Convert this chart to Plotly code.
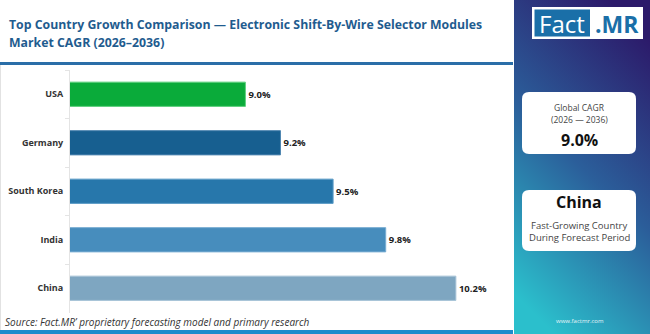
import plotly.graph_objects as go
import urllib.parse

countries = ["USA", "Germany", "South Korea", "India", "China"]
cagr = [9.0, 9.2, 9.5, 9.8, 10.2]
bar_colors = ["#0aab3a", "#175f90", "#2777ab", "#478dbd", "#7ea6c1"]
edge_colors = ["#5fd07f", "#4f86b0", "#5c9bc6", "#78acd2", "#a7c3d6"]
labels = [f"{v:.1f}%" for v in cagr]

W, H = 650, 334
def px(x):
    return x / W
def py(y):
    return 1 - y / H

FONT = "Open Sans"

fig = go.Figure()
fig.add_trace(go.Bar(
    y=countries, x=cagr, orientation="h",
    marker=dict(color=bar_colors, line=dict(color=edge_colors, width=1)),
    width=0.5,
    text=labels, textposition="outside", cliponaxis=False,
    textfont=dict(family=FONT, size=9.5, color="#222222", weight="bold"),
    hoverinfo="skip",
))

fig.update_layout(
    width=W, height=H,
    margin=dict(l=0, r=0, t=0, b=0),
    paper_bgcolor="white", plot_bgcolor="white",
    showlegend=False,
    xaxis=dict(domain=[px(70), px(512)], range=[8.0, 10.52], visible=False, fixedrange=True),
    yaxis=dict(domain=[py(312.5), py(70)], autorange="reversed", showgrid=False,
               showline=True, linecolor="#e4e4e4", linewidth=1,
               ticks="outside", ticklen=4, tickcolor="#e4e4e4", tickson="boundaries",
               ticklabelstandoff=4,
               tickfont=dict(family=FONT, size=9, color="#333333", weight="bold")),
)

shapes = []
shapes.append(dict(type="rect", xref="paper", yref="paper", x0=0, x1=px(513), y0=py(65), y1=py(62),
                   fillcolor="#2a6ea8", line=dict(width=0)))
shapes.append(dict(type="line", xref="paper", yref="paper", x0=px(0.5), x1=px(0.5), y0=py(330), y1=py(65),
                   line=dict(color="#e2e2e2", width=1)))
shapes.append(dict(type="rect", xref="paper", yref="paper", x0=0, x1=px(513), y0=0, y1=py(330),
                   fillcolor="#1e8ccc", line=dict(width=0)))

def rounded(x0, y0, x1, y1, r):
    pts = (f"M {px(x0 + r)},{py(y0)} L {px(x1 - r)},{py(y0)} "
           f"Q {px(x1)},{py(y0)} {px(x1)},{py(y0 + r)} "
           f"L {px(x1)},{py(y1 - r)} Q {px(x1)},{py(y1)} {px(x1 - r)},{py(y1)} "
           f"L {px(x0 + r)},{py(y1)} Q {px(x0)},{py(y1)} {px(x0)},{py(y1 - r)} "
           f"L {px(x0)},{py(y0 + r)} Q {px(x0)},{py(y0)} {px(x0 + r)},{py(y0)} Z")
    return dict(type="path", xref="paper", yref="paper", path=pts,
                fillcolor="white", line=dict(width=0))

shapes.append(rounded(522, 92, 636, 154, 7))
shapes.append(rounded(522, 190, 636, 251, 7))
shapes.append(dict(type="rect", xref="paper", yref="paper", x0=px(532), x1=px(643), y0=py(39), y1=py(7),
                   fillcolor="white", line=dict(width=0)))
shapes.append(dict(type="rect", xref="paper", yref="paper", x0=px(534.5), x1=px(590), y0=py(36.5), y1=py(9.5),
                   fillcolor="#1a6fa8", line=dict(width=0)))
fig.update_layout(shapes=shapes)

svg = ("<svg xmlns='http://www.w3.org/2000/svg' width='136' height='334' preserveAspectRatio='none'>"
       "<defs><linearGradient id='g' x1='0.7' y1='0' x2='0.3' y2='1'>"
       "<stop offset='0' stop-color='#2c1a6a'/>"
       "<stop offset='0.5' stop-color='#2b5e9a'/>"
       "<stop offset='1' stop-color='#2bbfcc'/>"
       "</linearGradient></defs><rect width='136' height='334' fill='url(#g)'/></svg>")
src = "data:image/svg+xml;charset=utf-8," + urllib.parse.quote(svg)
fig.add_layout_image(dict(source=src, xref="paper", yref="paper", x=px(514), y=1,
                          sizex=px(136), sizey=1, sizing="stretch", layer="below",
                          xanchor="left", yanchor="top"))

ann = []
def t(x, y, text, size, color, bold=False, italic=False, xanchor="center", family=FONT):
    ann.append(dict(xref="paper", yref="paper", x=px(x), y=py(y), text=text, showarrow=False,
                    xanchor=xanchor, yanchor="middle",
                    font=dict(family=family, size=size, color=color,
                              weight="bold" if bold else "normal",
                              style="italic" if italic else "normal")))

t(7, 25, "Top Country Growth Comparison — Electronic Shift-By-Wire Selector Modules", 12.3, "#1f5c8f", bold=True, xanchor="left")
t(7, 43, "Market CAGR (2026–2036)", 12.3, "#1f5c8f", bold=True, xanchor="left")
t(3, 322, "Source: Fact.MR’ proprietary forecasting model and primary research", 10, "#333333", italic=True, xanchor="left")

t(562, 23.5, "Fact", 24, "white")
t(616.5, 23.5, ".MR", 23, "#1a6fa8", bold=True)

t(579, 107, "Global CAGR", 8.5, "#444444")
t(579, 119.5, "(2026 — 2036)", 8.5, "#444444")
t(579, 140, "9.0%", 16, "#111111", bold=True)
t(579, 202, "China", 16, "#111111", bold=True)
t(579, 225, "Fast-Growing Country", 9.5, "#444444")
t(579, 238, "During Forecast Period", 9.5, "#444444")
t(580, 321, "www.factmr.com", 6, "#e8f4f8")

fig.update_layout(annotations=ann)
fig.write_html("out.html")
